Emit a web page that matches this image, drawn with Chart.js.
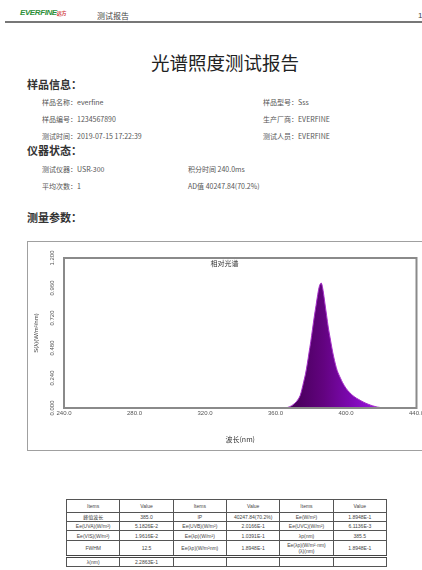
<!DOCTYPE html>
<html><head><meta charset="utf-8">
<script src="https://cdn.jsdelivr.net/npm/chart.js@4"></script>
<style>
html,body{margin:0;padding:0;background:#fff;}
body{width:422px;height:570px;overflow:hidden;position:relative;font-family:"Liberation Sans","Noto Sans CJK SC",sans-serif;color:#3a3a3a;}
.t{position:absolute;white-space:nowrap;line-height:1;}
.cj{font-family:"Noto Sans CJK SC","Liberation Sans",sans-serif;}
.sec{font-size:11px;font-weight:bold;color:#333;}
.row{font-size:7px;color:#555;}
#hline{position:absolute;left:5px;top:21px;width:420px;height:2px;background:#777;}
#box{position:absolute;left:27px;top:241px;width:398px;height:208px;border:1px solid #a0a0a0;}
#tbl{position:absolute;left:66px;top:499px;border-collapse:collapse;table-layout:fixed;width:321px;font-size:5px;color:#444;font-family:"Liberation Sans","Noto Sans CJK SC",sans-serif;}
#tbl td{border:1px solid #555;text-align:center;padding:0;line-height:6px;overflow:hidden;}
</style></head><body>
<div class="t" style="left:20px;top:9px;font-size:8px;font-weight:bold;font-style:italic;color:#2f8f3a;letter-spacing:-0.4px;">EVERFINE<span class="cj" style="color:#d23a3a;font-size:5px;font-style:normal;">远方</span></div>
<div class="t cj" style="left:97px;top:12px;font-size:8px;color:#444;">测试报告</div>
<div class="t" style="left:418px;top:12px;font-size:8px;color:#444;">1</div>
<div id="hline"></div>
<div class="t cj" style="left:151px;top:53px;font-size:18.5px;color:#222;">光谱照度测试报告</div>

<div class="t cj sec" style="left:27px;top:79px;">样品信息：</div>
<div class="t cj row" style="left:42px;top:99px;">样品名称：everfine</div>
<div class="t cj row" style="left:263px;top:99px;">样品型号：Sss</div>
<div class="t cj row" style="left:42px;top:116px;">样品编号：1234567890</div>
<div class="t cj row" style="left:263px;top:116px;">生产厂商：EVERFINE</div>
<div class="t cj row" style="left:42px;top:133px;">测试时间：2019-07-15 17:22:39</div>
<div class="t cj row" style="left:263px;top:133px;">测试人员：EVERFINE</div>
<div class="t cj sec" style="left:27px;top:145px;">仪器状态：</div>
<div class="t cj row" style="left:42px;top:166px;">测试仪器：USR-300</div>
<div class="t cj row" style="left:188px;top:166px;">积分时间 240.0ms</div>
<div class="t cj row" style="left:42px;top:183px;">平均次数：1</div>
<div class="t cj row" style="left:188px;top:183px;">AD值 40247.84(70.2%)</div>
<div class="t cj sec" style="left:27px;top:212px;">测量参数：</div>

<div id="box"><canvas id="c"></canvas></div>
<table id="tbl"></table>

<script>
// ---- data ----
const chartTitle = "相对光谱";
const xAxisTitle = "波长(nm)";
const yAxisTitle = "S(λ)(W/m²/nm)";
const xTicks = [240, 280, 320, 360, 400, 440];
const yTicks = [0, 0.24, 0.48, 0.72, 0.96, 1.2];
const wavelengths = [360,361,362,363,364,365,366,367,368,369,370,371,372,373,374,375,376,377,378,379,380,381,382,383,384,385,386,387,388,389,390,391,392,393,394,395,396,397,398,399,400,401,402,403,404,405,406,407,408,409,410,411,412,413,414,415,416,417,418,419,420,421,422,423,424,425];
const relativeSpectrum = [0,0,0,0,0,0,0.002,0.005,0.01,0.017,0.027,0.038,0.053,0.073,0.10,0.15,0.21,0.27,0.35,0.44,0.53,0.63,0.73,0.82,0.91,0.98,1.00,0.94,0.84,0.74,0.64,0.56,0.48,0.41,0.35,0.30,0.265,0.235,0.205,0.18,0.158,0.14,0.125,0.11,0.098,0.088,0.078,0.07,0.062,0.054,0.047,0.04,0.034,0.028,0.023,0.018,0.014,0.01,0.007,0.005,0.003,0.002,0.001,0,0,0];
const tableRows = [
  ["Items","Value","Items","Value","Items","Value"],
  ["峰值波长","385.0","IP","40247.84(70.2%)","Ee(W/m²)","1.8948E-1"],
  ["Ee(UVA)(W/m²)","5.1826E-2","Ee(UVB)(W/m²)","2.0166E-1","Ee(UVC)(W/m²)","6.1136E-3"],
  ["Ee(VIS)(W/m²)","1.9616E-2","Ee(λp)(W/m²)","1.0391E-1","λp(nm)","385.5"],
  ["FWHM","12.5","Ee(λp)(W/m²nm)","1.8948E-1","Ee(λp)(W/m²·nm)<br>(λ)(nm)","1.8948E-1"],
  ["λ(nm)","2.2863E-1","","","",""]
];
const rowHeights = [13, 9, 9, 10, 16, 10];

// ---- table ----
const tbl = document.getElementById('tbl');
tableRows.forEach((r, i) => {
  const tr = document.createElement('tr');
  tr.style.height = rowHeights[i] + 'px';
  r.forEach(txt => {
    const td = document.createElement('td');
    td.innerHTML = txt;
    if (i === tableRows.length - 1) td.style.borderTop = '3px double #444';
    tr.appendChild(td);
  });
  tbl.appendChild(tr);
});

// ---- chart ----
const framePlugin = {
  id: 'frame',
  afterDatasetsDraw(chart) {
    const {ctx, chartArea: a} = chart;
    ctx.save();
    ctx.strokeStyle = '#8a8a8a';
    ctx.lineWidth = 2;
    ctx.strokeRect(a.left, a.top, a.width, a.height);
    ctx.fillStyle = '#333';
    ctx.font = '7px "Noto Sans CJK SC"';
    ctx.textAlign = 'center';
    ctx.textBaseline = 'top';
    ctx.fillText(chartTitle, a.left + a.width * 0.455, a.top + 2);
    ctx.restore();
  }
};

function fillGradient(context) {
  const chart = context.chart;
  const {ctx, chartArea, scales} = chart;
  if (!chartArea) return '#6a0490';
  const g = ctx.createLinearGradient(scales.x.getPixelForValue(372), 0, scales.x.getPixelForValue(415), 0);
  g.addColorStop(0, '#4a005e');
  g.addColorStop(0.35, '#62037f');
  g.addColorStop(0.7, '#7c08b0');
  g.addColorStop(1, '#9414d8');
  return g;
}

new Chart(document.getElementById('c'), {
  type: 'line',
  data: {
    datasets: [{
      data: wavelengths.map((w, i) => ({x: w, y: relativeSpectrum[i]})),
      fill: 'origin',
      backgroundColor: fillGradient,
      borderColor: '#a530c8',
      borderWidth: 1,
      pointRadius: 0,
      tension: 0.3
    }]
  },
  options: {
    responsive: true,
    maintainAspectRatio: false,
    animation: false,
    layout: {padding: {top: 16, right: 8, left: 0, bottom: 0}},
    plugins: {legend: {display: false}, tooltip: {enabled: false}},
    scales: {
      x: {
        type: 'linear', min: 240, max: 440,
        afterBuildTicks: s => { s.ticks = xTicks.map(v => ({value: v})); },
        afterFit: s => { s.height = 42; },
        grid: {display: false, drawTicks: false},
        border: {display: false},
        ticks: {autoSkip: false, maxRotation: 0, padding: 2, font: {size: 6, family: 'Liberation Sans'}, color: '#555', callback: v => Number(v).toFixed(1)},
        title: {display: true, text: xAxisTitle, font: {size: 7, family: 'Noto Sans CJK SC'}, color: '#333', padding: {top: 0, bottom: 6}}
      },
      y: {
        min: 0, max: 1.2,
        afterBuildTicks: s => { s.ticks = yTicks.map(v => ({value: v})); },
        afterFit: s => { s.width = 36; },
        grid: {display: false, drawTicks: false},
        border: {display: false},
        ticks: {minRotation: 90, maxRotation: 90, crossAlign: 'center', padding: 4.5, font: {size: 6, family: 'Liberation Sans'}, color: '#555', callback: v => Number(v).toFixed(3)},
        title: {display: true, text: yAxisTitle, font: {size: 6, family: 'Liberation Sans'}, color: '#444', padding: {top: 4.4, bottom: 0}}
      }
    }
  },
  plugins: [framePlugin]
});
</script>
</body></html>
